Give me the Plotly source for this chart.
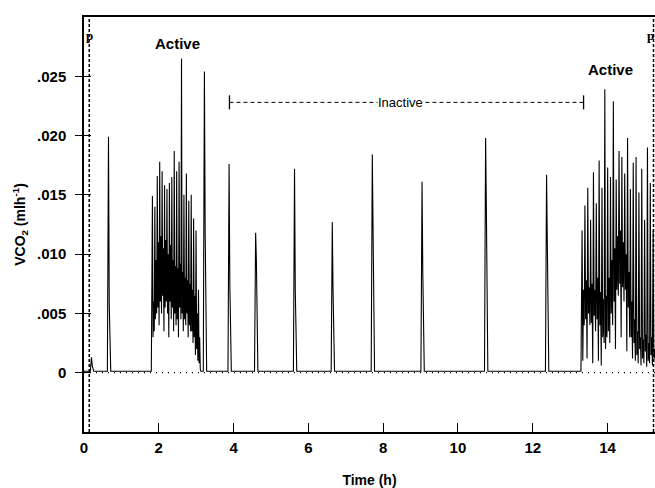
import plotly.graph_objects as go

# CO2 release trace (ml/h)
baseline = 0.00012

# isolated discontinuous bursts: time (h), peak, shoulder on the falling side
spike_time = [0.20, 0.655, 3.22, 3.88, 4.59, 5.63, 6.64, 7.71, 9.04, 10.74, 12.37]
spike_peak = [0.0013, 0.0199, 0.0254, 0.0176, 0.0118, 0.0172, 0.0127, 0.0184, 0.0161, 0.0198, 0.0167]
spike_shoulder = [0.0006, 0.0058, 0.0120, 0.0075, 0.0095, 0.0070, 0.0069, 0.0122, 0.0085, 0.0140, 0.0110]

# active bouts, regularly sampled
active1_start = 1.83
active1_step = 0.0162
active1_vco2 = [
    0.0149, 0.0030, 0.0060, 0.0035, 0.0140, 0.0045, 0.0095, 0.0050,
    0.0166, 0.0055, 0.0110, 0.0040, 0.0178, 0.0060, 0.0115, 0.0050,
    0.0170, 0.0065, 0.0105, 0.0035, 0.0158, 0.0055, 0.0112, 0.0060,
    0.0155, 0.0050, 0.0100, 0.0030, 0.0160, 0.0060, 0.0108, 0.0045,
    0.0165, 0.0055, 0.0095, 0.0035, 0.0187, 0.0050, 0.0090, 0.0040,
    0.0170, 0.0045, 0.0088, 0.0030, 0.0178, 0.0055, 0.0092, 0.0045,
    0.0265, 0.0050, 0.0085, 0.0035, 0.0150, 0.0045, 0.0080, 0.0040,
    0.0168, 0.0050, 0.0078, 0.0030, 0.0145, 0.0040, 0.0075, 0.0035,
    0.0150, 0.0035, 0.0070, 0.0025, 0.0130, 0.0030, 0.0065, 0.0015,
    0.0120, 0.0020, 0.0050, 0.0010, 0.0070, 0.0008, 0.0030, 0.0003,
]
active2_start = 13.32
active2_step = 0.019
active2_vco2 = [
    0.0120, 0.0010, 0.0070, 0.0040, 0.0141, 0.0045, 0.0078, 0.0012,
    0.0156, 0.0050, 0.0072, 0.0040, 0.0129, 0.0042, 0.0075, 0.0008,
    0.0169, 0.0048, 0.0070, 0.0035, 0.0143, 0.0045, 0.0080, 0.0010,
    0.0179, 0.0040, 0.0068, 0.0006, 0.0156, 0.0030, 0.0062, 0.0025,
    0.0239, 0.0020, 0.0065, 0.0030, 0.0173, 0.0035, 0.0080, 0.0025,
    0.0165, 0.0050, 0.0095, 0.0040, 0.0229, 0.0060, 0.0105, 0.0020,
    0.0163, 0.0070, 0.0115, 0.0065, 0.0187, 0.0075, 0.0120, 0.0030,
    0.0182, 0.0072, 0.0110, 0.0060, 0.0168, 0.0070, 0.0100, 0.0018,
    0.0198, 0.0055, 0.0085, 0.0030, 0.0155, 0.0030, 0.0060, 0.0012,
    0.0177, 0.0025, 0.0045, 0.0010, 0.0182, 0.0015, 0.0035, 0.0008,
    0.0152, 0.0020, 0.0030, 0.0006, 0.0172, 0.0012, 0.0028, 0.0008,
    0.0129, 0.0018, 0.0032, 0.0005, 0.0190, 0.0010, 0.0025, 0.0008,
    0.0160, 0.0015, 0.0030, 0.0006, 0.0120, 0.0012, 0.0020, 0.0010,
]

# event markers (dashed verticals labelled "p")
p_times = [0.14, 15.23]

# phase labels
inactive_span = [3.89, 13.36]
inactive_y = 0.0228
active_label_x = [2.5, 14.08]
active_label_y = [0.0278, 0.0256]

x_ticks = [0, 2, 4, 6, 8, 10, 12, 14]
y_ticks = [0, 0.005, 0.010, 0.015, 0.020, 0.025]
y_tick_text = ['0', '.005', '.010', '.015', '.020', '.025']

# build the trace as (time, value) points
pts = [(0.0, baseline)]
spike_rise, spike_fall, spike_end = 0.03, 0.02, 0.06
for t, pk, sh in zip(spike_time, spike_peak, spike_shoulder):
    pts += [(t - spike_rise, baseline), (t, pk), (t + spike_fall, sh), (t + spike_end, baseline)]
for start, step, vals in [(active1_start, active1_step, active1_vco2),
                          (active2_start, active2_step, active2_vco2)]:
    pts.append((start - 0.03, baseline))
    pts += [(start + i * step, v) for i, v in enumerate(vals)]
    pts.append((start + len(vals) * step, baseline))
pts.sort()
t_all = [p[0] for p in pts]
v_all = [p[1] for p in pts]

fig = go.Figure()

fig.add_hline(y=0, line=dict(color='black', width=1.3, dash='1px,5px'), layer='below')
for pt in p_times:
    fig.add_vline(x=pt, line=dict(color='black', width=1.5, dash='3px,2px'))

fig.add_trace(go.Scatter(
    x=t_all, y=v_all, mode='lines',
    line=dict(color='black', width=1.1),
    showlegend=False, hoverinfo='skip',
))

fig.add_trace(go.Scatter(
    x=inactive_span, y=[inactive_y] * 2, mode='lines+markers',
    line=dict(color='black', width=1, dash='4px,3px'),
    marker=dict(symbol='line-ns', size=10, line=dict(width=1.3, color='black')),
    showlegend=False, hoverinfo='skip', yaxis='y2',
))

for ax, ay in zip(active_label_x, active_label_y):
    fig.add_annotation(x=ax, y=ay, text='Active', showarrow=False,
                       font=dict(size=15, weight='bold'))
fig.add_annotation(x=sum(inactive_span) / 2 - 0.15, y=inactive_y, text='Inactive',
                   showarrow=False, bgcolor='white', borderpad=0,
                   font=dict(size=13))
for pt, shift in zip(p_times, [0, -3]):
    fig.add_annotation(x=pt, y=0.0284, text='p', showarrow=False, xshift=shift,
                       font=dict(family='Liberation Serif, serif', size=13, weight='bold'))

fig.update_layout(
    width=655, height=488,
    margin=dict(l=84, r=0, t=17, b=56),
    paper_bgcolor='white', plot_bgcolor='white',
    font=dict(family='Liberation Sans, Arial, sans-serif', size=15, color='black'),
    xaxis=dict(
        range=[0, 15.27], tickvals=x_ticks,
        ticks='inside', ticklen=9, tickwidth=1.3, tickcolor='black',
        showline=True, linewidth=1.5, linecolor='black', mirror=True,
        showgrid=False, zeroline=False, automargin=False,
        tickfont=dict(size=15, weight='bold'), ticklabelstandoff=1,
        title=dict(text='Time (h)', font=dict(size=14, weight='bold'), standoff=26),
    ),
    yaxis=dict(
        range=[-0.005, 0.030], tickvals=y_ticks, ticktext=y_tick_text,
        ticks='outside', ticklen=7, tickwidth=1.3, tickcolor='black',
        showline=True, linewidth=1.5, linecolor='black',
        showgrid=False, zeroline=False, automargin=False,
        tickfont=dict(size=15, weight='bold'), ticklabelstandoff=6,
        title=dict(text='VCO<sub>2</sub> (mlh<sup>-1</sup>)',
                   font=dict(size=14, weight='bold'), standoff=8),
    ),
    yaxis2=dict(
        overlaying='y', range=[-0.005, 0.030], tickvals=y_ticks,
        ticks='inside', ticklen=7, tickwidth=1.3, tickcolor='black',
        showticklabels=False, showline=False, showgrid=False, zeroline=False,
    ),
)

# page margin off so the 655x488 figure fills the window exactly
fig.write_html("out.html", config={'displayModeBar': False},
               post_script="document.body.style.margin='0';document.body.style.overflow='hidden';")
